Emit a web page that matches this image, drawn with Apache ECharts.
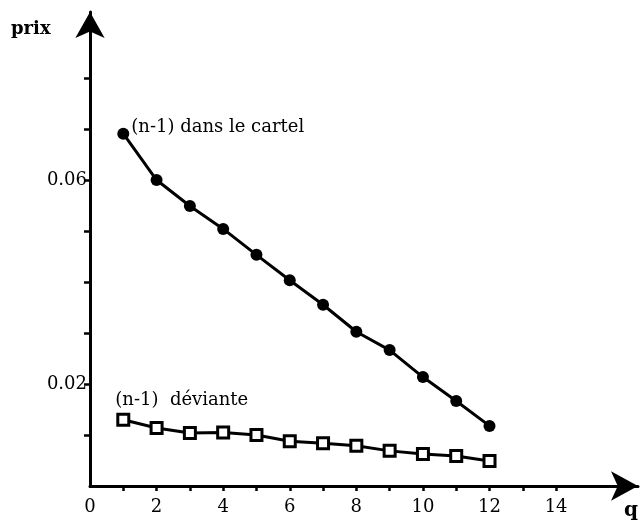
<!DOCTYPE html>
<html>
<head>
<meta charset="utf-8">
<script src="https://cdn.jsdelivr.net/npm/echarts@6/dist/echarts.min.js"></script>
<style>
	html, body { margin: 0; padding: 0; background: #fff; }
	#main { width: 641px; height: 522px; }
</style>
</head>
<body>
<div id="main"></div>
<script>
// q (nombre de firmes) et prix
var q = [1, 2, 3, 4, 5, 6, 7, 8, 9, 10, 11, 12];
var cartel = [0.0692, 0.0601, 0.0550, 0.0505, 0.0454, 0.0404, 0.0356, 0.0303, 0.0267, 0.0214, 0.0167, 0.0118];
var deviante = [0.0130, 0.0114, 0.0104, 0.0105, 0.0100, 0.0088, 0.0084, 0.0079, 0.0069, 0.0063, 0.0059, 0.0049];
var xLabels = [0, 2, 4, 6, 8, 10, 12, 14];
var xTicks = [1, 2, 3, 4, 5, 6, 7, 8, 9, 10, 11, 12, 13, 14];
var yLabels = [0.02, 0.06];
var yTicks = [0.01, 0.02, 0.03, 0.04, 0.05, 0.06, 0.07, 0.08];

window.onload = function(){
	var myChart = echarts.init(document.getElementById('main'));

	function pairs(ys){
		return q.map(function(x, i){ return [x, ys[i]]; });
	}

	var cartelData = pairs(cartel);
	cartelData[0] = {
		value: cartelData[0],
		label: {
			show: true,
			position: 'right',
			offset: [-3, -6],
			formatter: '(n-1) dans le cartel',
			color: '#000',
			fontFamily: 'DejaVu Serif',
			fontSize: 18
		}
	};

	var devData = pairs(deviante);
	devData[0] = {
		value: devData[0],
		label: {
			show: true,
			position: 'top',
			align: 'left',
			offset: [-8, 2],
			formatter: '(n-1)  déviante',
			color: '#000',
			fontFamily: 'DejaVu Serif',
			fontSize: 18
		}
	};

	var axisText = {
		color: '#000',
		fontFamily: 'DejaVu Serif',
		fontSize: 18
	};

	var option = {
		backgroundColor: '#fff',
		animation: false,
		grid: {
			left: 90,
			right: 3,
			top: 12,
			bottom: 36
		},
		xAxis: {
			type: 'value',
			min: 0,
			max: 16.46,
			interval: 1,
			axisLine: {
				show: true,
				symbol: ['none', 'arrow'],
				symbolSize: [22, 27],
				lineStyle: { color: '#000', width: 3 }
			},
			axisTick: {
				show: true,
				length: 5,
				customValues: xTicks,
				lineStyle: { color: '#000', width: 2.5 }
			},
			axisLabel: {
				customValues: xLabels,
				margin: 12,
				textStyle: axisText
			},
			splitLine: { show: false }
		},
		yAxis: {
			type: 'value',
			min: 0,
			max: 0.0931,
			interval: 0.01,
			axisLine: {
				show: true,
				symbol: ['none', 'arrow'],
				symbolSize: [22, 26],
				lineStyle: { color: '#000', width: 3 }
			},
			axisTick: {
				show: true,
				length: 6,
				customValues: yTicks,
				lineStyle: { color: '#000', width: 2.5 }
			},
			axisLabel: {
				customValues: yLabels,
				margin: 3,
				formatter: function(v){ return v.toFixed(2); },
				textStyle: axisText
			},
			splitLine: { show: false }
		},
		graphic: [
			{
				type: 'text',
				left: 11,
				top: 20,
				style: {
					text: 'prix',
					fill: '#000',
					font: 'bold 18px "DejaVu Serif"'
				}
			},
			{
				type: 'text',
				left: 624,
				top: 501,
				style: {
					text: 'q',
					fill: '#000',
					font: 'bold 20px "DejaVu Serif"'
				}
			}
		],
		series: [
			{
				name: 'cartel',
				type: 'line',
				data: cartelData,
				symbol: 'circle',
				symbolSize: 12,
				itemStyle: { color: '#000' },
				lineStyle: { color: '#000', width: 3 }
			},
			{
				name: 'deviante',
				type: 'line',
				data: devData,
				symbol: 'rect',
				symbolSize: 11,
				itemStyle: { color: '#fff', borderColor: '#000', borderWidth: 3 },
				lineStyle: { color: '#000', width: 3 }
			}
		]
	};

	myChart.setOption(option);
};
</script>
</body>
</html>
